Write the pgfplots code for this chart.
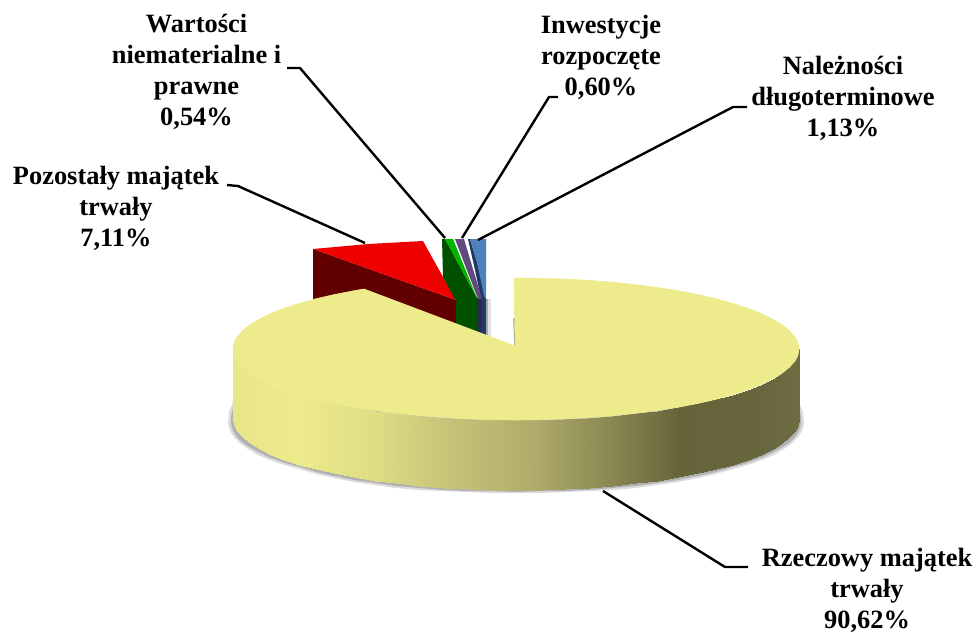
\documentclass[border=0pt]{standalone}
\usepackage{fontspec}
\setmainfont{Liberation Serif}
\usepackage{pgfplots}
\pgfplotsset{compat=1.18}
\definecolor{pietop}{HTML}{EDEB8B}
\definecolor{redtop}{HTML}{EE0000}
\definecolor{redside}{HTML}{600000}
\definecolor{grtop}{HTML}{00B400}
\definecolor{grside}{HTML}{005000}
\definecolor{putop}{HTML}{604A7B}
\definecolor{puside}{HTML}{2D2550}
\definecolor{bltop}{HTML}{4F81BD}
\definecolor{blside}{HTML}{1F3864}
\tikzset{lab/.style={font=\fontsize{26.4}{31}\selectfont\bfseries, align=center, text=black, inner sep=0pt, anchor=center}}
\begin{document}
\begin{tikzpicture}
\begin{axis}[
  scale only axis, width=977pt, height=632pt,
  xmin=0, xmax=977, ymin=0, ymax=632, y dir=reverse,
  hide axis, no marks, clip=true,
  colormap={piecm}{
    rgb255(233)=(232,230,136);
    rgb255(300)=(237,235,139);
    rgb255(370)=(224,222,133);
    rgb255(450)=(198,195,120);
    rgb255(530)=(176,173,108);
    rgb255(600)=(143,140,85);
    rgb255(680)=(102,100,58);
    rgb255(760)=(104,102,60);
    rgb255(799)=(110,108,66)
  },
  point meta min=233, point meta max=799,
]
% page
\addplot[fill=white, draw=none] coordinates {(0,0) (977,0) (977,632) (0,632)} -- cycle;

% shadow below the main slice: soft outer edge, then a darker inner one
\addplot[fill=black!14, draw=none] coordinates {
 (233,402) (229,412) (228,424) (230,431) (234,437) (240,443) (248,449) (258,455) (270,460) (284,465) (299,469) (316,474)
 (334,478) (354,482) (375,485) (396,488) (419,490) (443,491) (467,492) (491,493) (516,493)
 (541,493) (565,492) (589,491) (613,490) (636,488) (657,485) (678,482) (698,478) (716,474)
 (733,469) (748,465) (762,460) (774,455) (784,449) (792,443) (798,437) (802,431) (804,424) (803,412) (799,402)
} -- cycle;
\addplot[fill=black!30, draw=none] coordinates {
 (233,408) (231,416) (231,424) (233,431) (237,437) (243,443) (251,448) (260,453) (271,458) (285,463) (300,467) (316,472)
 (334,476) (354,480) (375,483) (396,486) (419,488) (443,490) (467,491) (491,491) (516,492)
 (541,491) (565,491) (589,490) (613,488) (636,486) (657,483) (678,480) (698,476) (716,472)
 (733,467) (748,463) (761,458) (772,453) (781,448) (789,443) (795,437) (799,431) (801,424) (801,416) (799,408)
} -- cycle;

% small slices, back to front
\addplot[fill=black!12, draw=none] coordinates {(488,299) (491,299) (491,338) (488,338)} -- cycle;
\addplot[fill=black!32, draw=none] coordinates {(486,299) (488,299) (488,338) (486,338)} -- cycle;
\addplot[fill=redside, draw=none] coordinates {(313,249) (456,300) (457,326) (364,289) (313,300)} -- cycle;
\addplot[fill=redtop, draw=none] coordinates {(313,249) (368,244) (423,241) (443,277) (456,300)} -- cycle;

\addplot[fill=blside, draw=none] coordinates {(468,239) (470,239) (477,262) (486,299) (486,338) (481,336) (481,299) (475,270)} -- cycle;
\addplot[fill=bltop, draw=none] coordinates {(470,239) (486,239) (486,299) (484,296) (477,262)} -- cycle;

\addplot[fill=puside, draw=none] coordinates {(478,298) (482,298) (481,336) (478,335)} -- cycle;
\addplot[fill=putop, draw=none] coordinates {(455,239) (464,239) (482,299) (478,299)} -- cycle;

\addplot[fill=grside, draw=none] coordinates {(442,239) (445,239) (477,298) (478,298) (478,335) (456,326) (456,301) (443,277)} -- cycle;
\addplot[fill=grtop, draw=none] coordinates {(445,239) (453,239) (477,298)} -- cycle;

% main slice: side wall
\addplot[surf, shader=interp, mesh/rows=2, point meta=\thisrow{m}] table {
x y m
233 349 233
234.1 355.2 234.1
237.3 361.3 237.3
242.7 367.4 242.7
250.1 373.3 250.1
259.5 379 259.5
270.9 384.5 270.9
284.2 389.7 284.2
299.2 394.6 299.2
315.9 399.2 315.9
334.1 403.4 334.1
353.7 407.2 353.7
374.5 410.5 374.5
396.4 413.3 396.4
419.2 415.7 419.2
442.8 417.6 442.8
466.9 418.9 466.9
491.3 419.7 491.3
516 420 516
540.7 419.7 540.7
565.1 418.9 565.1
589.2 417.6 589.2
612.8 415.7 612.8
635.6 413.3 635.6
657.5 410.5 657.5
678.3 407.2 678.3
697.9 403.4 697.9
716.1 399.2 716.1
732.8 394.6 732.8
747.8 389.7 747.8
761.1 384.5 761.1
772.5 379 772.5
781.9 373.3 781.9
789.3 367.4 789.3
794.7 361.3 794.7
797.9 355.2 797.9
799 349 799
233 419 233
234.1 425.2 234.1
237.3 431.3 237.3
242.7 437.4 242.7
250.1 443.3 250.1
259.5 449 259.5
270.9 454.5 270.9
284.2 459.7 284.2
299.2 464.6 299.2
315.9 469.2 315.9
334.1 473.4 334.1
353.7 477.2 353.7
374.5 480.5 374.5
396.4 483.3 396.4
419.2 485.7 419.2
442.8 487.6 442.8
466.9 488.9 466.9
491.3 489.7 491.3
516 490 516
540.7 489.7 540.7
565.1 488.9 565.1
589.2 487.6 589.2
612.8 485.7 612.8
635.6 483.3 635.6
657.5 480.5 657.5
678.3 477.2 678.3
697.9 473.4 697.9
716.1 469.2 716.1
732.8 464.6 732.8
747.8 459.7 747.8
761.1 454.5 761.1
772.5 449 772.5
781.9 443.3 781.9
789.3 437.4 789.3
794.7 431.3 794.7
797.9 425.2 797.9
799 419 799
};

% cut wall
\addplot[draw=black!45, line width=1.5pt] coordinates {(514,318) (515,346)};

% main slice: top face
\addplot[fill=pietop, draw=pietop, line width=0.6pt] coordinates {
 (515,346) (514,278) (516,278) (540.7,278.3) (565.1,279.1) (589.2,280.4) (612.8,282.3) (635.6,284.7)
 (657.5,287.5) (678.3,290.8) (697.9,294.6) (716.1,298.8) (732.8,303.4) (747.8,308.3) (761.1,313.5)
 (772.5,319) (781.9,324.7) (789.3,330.6) (794.7,336.7) (797.9,342.8) (799,349)
 (797.9,355.2) (794.7,361.3) (789.3,367.4) (781.9,373.3) (772.5,379) (761.1,384.5) (747.8,389.7)
 (732.8,394.6) (716.1,399.2) (697.9,403.4) (678.3,407.2) (657.5,410.5) (635.6,413.3) (612.8,415.7)
 (589.2,417.6) (565.1,418.9) (540.7,419.7) (516,420) (491.3,419.7) (466.9,418.9) (442.8,417.6)
 (419.2,415.7) (396.4,413.3) (374.5,410.5) (353.7,407.2) (334.1,403.4) (315.9,399.2) (299.2,394.6)
 (284.2,389.7) (270.9,384.5) (259.5,379) (250.1,373.3) (242.7,367.4) (237.3,361.3) (234.1,355.2) (233,349)
 (234.1,342.8) (237.3,336.7) (242.7,330.6) (250.1,324.7) (259.5,319) (270.9,313.5) (284.2,308.3)
 (299.2,303.4) (315.9,298.8) (334.1,294.6) (353.7,290.8) (364,289)
} -- cycle;

% leader lines
\addplot[black, line width=2.4pt] coordinates {(287,68) (300,68) (445,238)};
\addplot[black, line width=2.4pt] coordinates {(227,185) (238,186) (365,243)};
\addplot[black, line width=2.4pt] coordinates {(558,97) (549,97) (462,238)};
\addplot[black, line width=2.4pt] coordinates {(747,107) (733,107) (478,240)};
\addplot[black, line width=2.4pt] coordinates {(603,491) (725,567) (748,567)};

% labels
\node[lab] at (axis cs:196.5,72) {Wartości\\niematerialne i\\prawne\\0,54\%};
\node[lab] at (axis cs:116,208) {Pozostały majątek\\trwały\\7,11\%};
\node[lab] at (axis cs:601,57) {Inwestycje\\rozpoczęte\\0,60\%};
\node[lab] at (axis cs:843,98) {Należności\\długoterminowe\\1,13\%};
\node[lab] at (axis cs:867,590) {Rzeczowy majątek\\trwały\\90,62\%};
\end{axis}
\end{tikzpicture}
\end{document}
